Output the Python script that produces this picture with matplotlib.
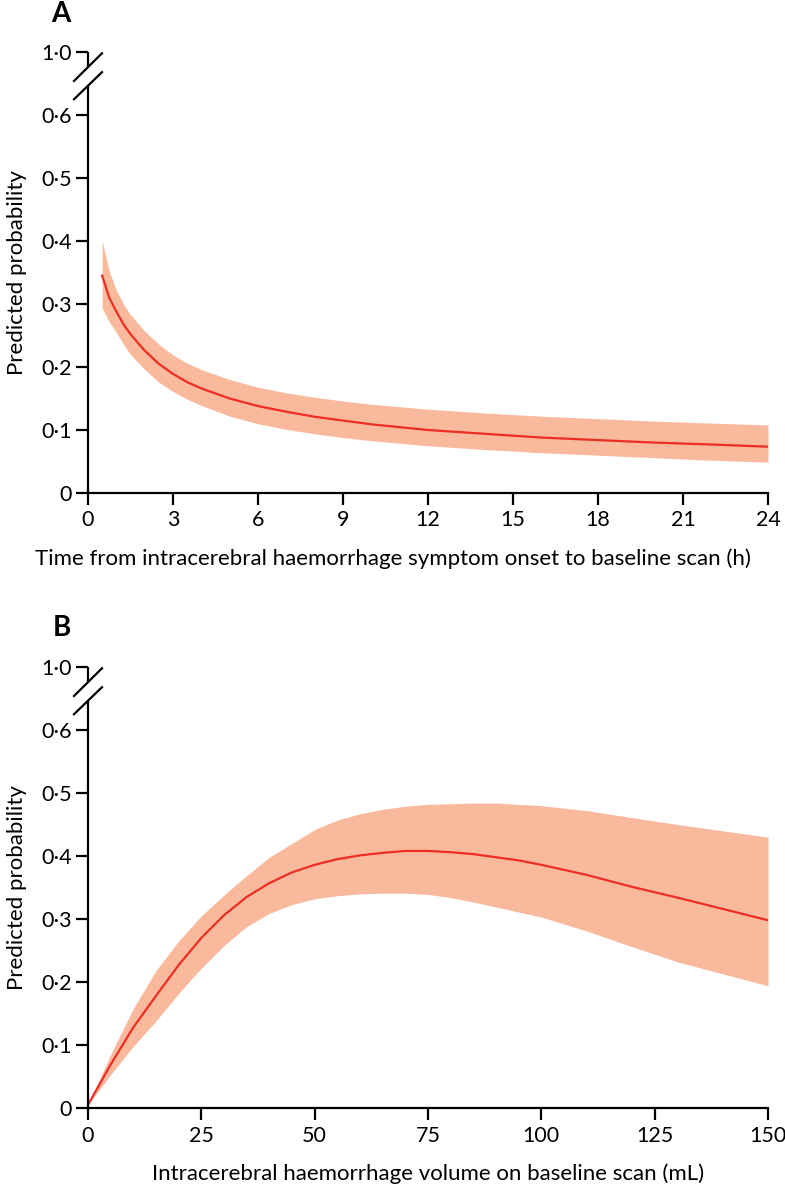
import matplotlib
matplotlib.use("Agg")
import matplotlib.pyplot as plt
import matplotlib.transforms as mtransforms

plt.rcParams['font.family'] = ['Lato', 'DejaVu Sans']

# Panel A: time from onset (h)
time_h = [0.5, 0.75, 1, 1.25, 1.5, 2, 2.5, 3, 3.5, 4, 5, 6, 7, 8, 9, 10, 12, 14, 16, 18, 20, 22, 24]
prob_a = [0.345, 0.31, 0.288, 0.268, 0.252, 0.226, 0.205, 0.189, 0.176, 0.166, 0.150, 0.138, 0.129,
          0.121, 0.115, 0.109, 0.100, 0.094, 0.088, 0.084, 0.080, 0.077, 0.0735]
upper_a = [0.400, 0.352, 0.322, 0.300, 0.283, 0.257, 0.236, 0.219, 0.206, 0.196, 0.180, 0.168, 0.159,
           0.152, 0.146, 0.141, 0.133, 0.127, 0.122, 0.118, 0.114, 0.111, 0.108]
lower_a = [0.293, 0.272, 0.255, 0.236, 0.220, 0.196, 0.176, 0.161, 0.149, 0.139, 0.122, 0.110, 0.101,
           0.094, 0.088, 0.083, 0.075, 0.069, 0.064, 0.060, 0.056, 0.052, 0.049]

# Panel B: haemorrhage volume (mL)
vol_ml = [0, 5, 10, 15, 20, 25, 30, 35, 40, 45, 50, 55, 60, 65, 70, 75, 80, 85, 90, 95, 100,
          110, 120, 130, 140, 150]
prob_b = [0.005, 0.069, 0.128, 0.178, 0.227, 0.270, 0.306, 0.335, 0.357, 0.374, 0.386, 0.395, 0.401,
          0.405, 0.408, 0.408, 0.406, 0.403, 0.398, 0.393, 0.386, 0.370, 0.351, 0.334, 0.316, 0.298]
upper_b = [0.005, 0.085, 0.158, 0.218, 0.265, 0.305, 0.338, 0.369, 0.398, 0.420, 0.442, 0.457, 0.467,
           0.474, 0.479, 0.482, 0.483, 0.484, 0.484, 0.482, 0.480, 0.472, 0.461, 0.450, 0.440, 0.430]
lower_b = [0.005, 0.053, 0.098, 0.138, 0.182, 0.222, 0.258, 0.288, 0.309, 0.323, 0.332, 0.337, 0.340,
           0.341, 0.341, 0.339, 0.334, 0.327, 0.319, 0.311, 0.303, 0.281, 0.256, 0.232, 0.213, 0.194]

yticks = [0, 0.1, 0.2, 0.3, 0.4, 0.5, 0.6, 0.7]
ytick_labels = ["0", "0·1", "0·2", "0·3", "0·4", "0·5", "0·6", "1·0"]
xticks_a = [0, 3, 6, 9, 12, 15, 18, 21, 24]
xticks_b = [0, 25, 50, 75, 100, 125, 150]

FILL = '#F9B99C'
LINE = '#EE2E24'
FS_TICK = 15.5
FS_LAB = 16

W, H = 785, 1187
fig = plt.figure(figsize=(W / 100, H / 100), dpi=100)

def make_ax(top_px, bottom_px):
    left, right = 88 / W, 768 / W
    return fig.add_axes([left, 1 - bottom_px / H, right - left, (bottom_px - top_px) / H])

def style(ax, x, mid, up, lo, xticks, xmax, xlabel, xlab_pos):
    ax.fill_between(x, lo, up, color=FILL, linewidth=0, zorder=1)
    ax.plot(x, mid, color=LINE, lw=1.6, zorder=2)
    ax.set_xlim(0, xmax)
    ax.set_ylim(0, 0.7)
    for s in ['top', 'right']:
        ax.spines[s].set_visible(False)
    ax.spines['bottom'].set_linewidth(1.6)
    ax.spines['left'].set_linewidth(1.6)
    ax.spines['left'].set_bounds(0, 0.6476)
    ax.spines['left'].set_capstyle('butt')
    ax.set_xticks(xticks)
    ax.set_xticklabels([str(t) for t in xticks])
    ax.set_yticks(yticks)
    ax.set_yticklabels(ytick_labels)
    ax.tick_params(axis='both', direction='out', length=8.6, width=1.6, labelsize=FS_TICK, color='black')
    ax.tick_params(axis='y', pad=3)
    ax.tick_params(axis='x', pad=4)
    ax.set_ylabel("Predicted probability", fontsize=FS_LAB, labelpad=10)
    ax.set_xlabel(xlabel, fontsize=FS_LAB, labelpad=11)
    ax.xaxis.set_label_coords(xlab_pos, -0.125)
    trans = mtransforms.blended_transform_factory(ax.transAxes, ax.transData)
    ax.plot([0, 0], [0.676, 0.7], transform=trans, color='black', lw=1.6, clip_on=False, solid_capstyle='butt')
    d = 14 / 680
    ax.plot([-d, d], [0.654, 0.698], transform=trans, color='black', lw=1.6, clip_on=False)
    ax.plot([-d, d], [0.625, 0.668], transform=trans, color='black', lw=1.6, clip_on=False)

axA = make_ax(52, 493)
style(axA, time_h, prob_a, upper_a, lower_a, xticks_a, 24,
      "Time from intracerebral haemorrhage symptom onset to baseline scan (h)", (393 - 88) / 680)
axB = make_ax(667, 1108)
style(axB, vol_ml, prob_b, upper_b, lower_b, xticks_b, 150,
      "Intracerebral haemorrhage volume on baseline scan (mL)", 0.5)

fig.text(61 / W, 1 - 14 / H, "A", fontsize=20, fontweight='bold', ha='center', va='center')
fig.text(62 / W, 1 - 628 / H, "B", fontsize=20, fontweight='bold', ha='center', va='center')

fig.savefig("out.png", dpi=100)
